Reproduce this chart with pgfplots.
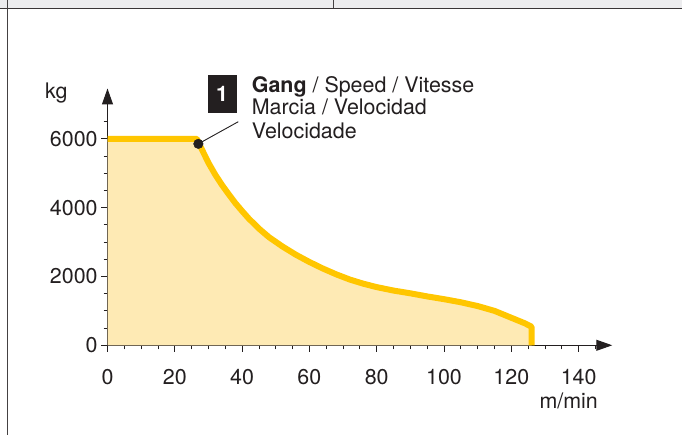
\documentclass[border=0pt]{standalone}
\usepackage{fontspec}
\setmainfont{TeX Gyre Heros}
\usepackage{pgfplots}
\pgfplotsset{compat=1.18}
\usetikzlibrary{arrows.meta}
\definecolor{gold}{RGB}{255,198,0}
\definecolor{pale}{RGB}{254,234,180}
\definecolor{ink}{RGB}{35,31,32}
\definecolor{band}{RGB}{236,236,238}
\newcommand{\chartfont}{\fontsize{21.5}{24}\selectfont}
\begin{document}
\begin{tikzpicture}[x=1bp,y=1bp]
\useasboundingbox (0,0) rectangle (682,435);
\fill[white] (0,0) rectangle (682,435);
\fill[band] (0,427) rectangle (682,435);
\draw[ink!90, line width=1.5bp] (0,426.6) -- (682,426.6);
\draw[ink!85, line width=1.2bp] (7.7,0) -- (7.7,435);
\draw[ink!85, line width=1bp] (333,427) -- (333,435);
\begin{axis}[
  at={(107.5bp,89.7bp)}, anchor=south west, scale only axis,
  width=504.75bp, height=256.8bp,
  xmin=0, xmax=150, ymin=0, ymax=7460,
  axis lines=left,
  axis line style={ink, line width=1bp, -{Triangle[length=16bp,width=11bp]}},
  xtick={0,20,40,60,80,100,120,140},
  xticklabels={0,20,40,60,80,100,120,140},
  minor xtick={5,10,15,25,30,35,45,50,55,65,70,75,85,90,95,105,110,115,125,130,135,145},
  ytick={0,2000,4000,6000},
  yticklabels={0,2000,4000,6000},
  minor ytick={500,1000,1500,2500,3000,3500,4500,5000,5500,6500},
  tick align=outside, major tick length=6.4bp, minor tick length=4bp,
  tick style={ink, line width=0.8bp},
  ticklabel style={font=\chartfont, text=ink},
  xticklabel style={yshift=-14bp},
]
\addplot[draw=none, fill=pale] coordinates {
(0,6000) (26.5,6000) (28,5700) (30,5300) (32,4960) (34,4660) (36,4390) (38,4130)
(40,3900) (42,3680) (45,3390) (48,3140) (52,2870) (56,2630) (60,2420) (64,2230)
(68,2060) (72,1910) (76,1790) (80,1690) (85,1590) (90,1510) (95,1420) (100,1340)
(105,1250) (110,1140) (115,1000) (120,800) (124,640) (126,540)} \closedcycle;
\addplot[gold, line width=6bp, line join=round] coordinates {
(0,6000) (26.5,6000) (28,5700) (30,5300) (32,4960) (34,4660) (36,4390) (38,4130)
(40,3900) (42,3680) (45,3390) (48,3140) (52,2870) (56,2630) (60,2420) (64,2230)
(68,2060) (72,1910) (76,1790) (80,1690) (85,1590) (90,1510) (95,1420) (100,1340)
(105,1250) (110,1140) (115,1000) (120,800) (124,640) (126,540) (126,0)};
\addplot[only marks, mark=*, mark size=4.8bp, mark options={fill=ink, draw=ink}] coordinates {(27,5852)};
\coordinate (dot) at (axis cs:27,5852);
\end{axis}
\draw[ink, line width=0.9bp] (dot) -- (238.3,313.3);
\fill[ink] (207.7,322.3) rectangle (236.7,360);
\node[text=white, font=\chartfont\bfseries, inner sep=0] at (222.2,341.5) {1};
\node[anchor=base west, inner sep=0, font=\chartfont, text=ink] at (251.7,342.7) {\textbf{Gang} / Speed / Vitesse};
\node[anchor=base west, inner sep=0, font=\chartfont, text=ink] at (251.7,320) {Marcia / Velocidad};
\node[anchor=base west, inner sep=0, font=\chartfont, text=ink] at (251.7,296.7) {Velocidade};
\node[anchor=base west, inner sep=0, font=\chartfont, text=ink] at (45,336.7) {kg};
\node[anchor=base east, inner sep=0, font=\chartfont, text=ink] at (598,26) {m/min};
\end{tikzpicture}
\end{document}
